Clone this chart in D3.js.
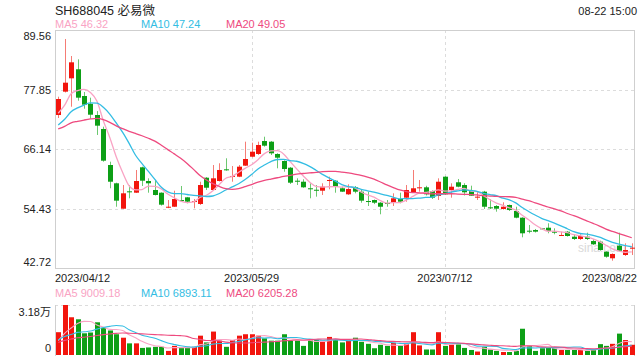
<!DOCTYPE html>
<html><head><meta charset="utf-8">
<script src="https://cdn.jsdelivr.net/npm/d3@7"></script>
<style>
html,body{margin:0;padding:0;background:#fff;}
svg{display:block;font-family:"Liberation Sans",Arial,"Noto Sans CJK SC",sans-serif;}
</style></head>
<body><svg id="c" width="640" height="360"></svg>
<script>
const dates = ["2023/04/12","2023/04/13","2023/04/14","2023/04/17","2023/04/18","2023/04/19","2023/04/20","2023/04/21","2023/04/24","2023/04/25","2023/04/26","2023/04/27","2023/04/28",
"2023/05/04","2023/05/05","2023/05/08","2023/05/09","2023/05/10","2023/05/11","2023/05/12","2023/05/15","2023/05/16","2023/05/17","2023/05/18","2023/05/19","2023/05/22","2023/05/23","2023/05/24","2023/05/25","2023/05/26","2023/05/29","2023/05/30","2023/05/31",
"2023/06/01","2023/06/02","2023/06/05","2023/06/06","2023/06/07","2023/06/08","2023/06/09","2023/06/12","2023/06/13","2023/06/14","2023/06/15","2023/06/16","2023/06/19","2023/06/20","2023/06/21","2023/06/26","2023/06/27","2023/06/28","2023/06/29","2023/06/30",
"2023/07/03","2023/07/04","2023/07/05","2023/07/06","2023/07/07","2023/07/10","2023/07/11","2023/07/12","2023/07/13","2023/07/14","2023/07/17","2023/07/18","2023/07/19","2023/07/20","2023/07/21","2023/07/24","2023/07/25","2023/07/26","2023/07/27","2023/07/28","2023/07/31",
"2023/08/01","2023/08/02","2023/08/03","2023/08/04","2023/08/07","2023/08/08","2023/08/09","2023/08/10","2023/08/11","2023/08/14","2023/08/15","2023/08/16","2023/08/17","2023/08/18","2023/08/21","2023/08/22"];
const open  = [72.83,77.42,80.05,81.83,76.57,75.05,72.83,70.08,62.99,59.39,54.39,57.81,57.54,62.54,59.84,58.07,57.54,54.59,54.78,56.10,56.63,55.71,55.32,60.49,58.07,59.84,62.14,60.69,60.69,62.86,64.62,65.16,67.71,67.58,65.16,63.78,62.46,59.90,59.70,58.41,58.12,57.93,59.98,59.90,58.41,57.22,58.60,57.74,55.90,56.10,55.57,55.51,55.57,56.30,56.56,57.62,58.52,58.60,57.87,56.89,60.69,58.07,59.59,59.05,57.87,56.69,57.74,54.66,54.92,54.33,55.12,53.94,52.62,50.06,50.20,50.53,50.65,49.87,49.16,49.86,48.88,48.43,48.88,48.03,47.90,45.93,44.63,47.11,45.28,46.60];
const high  = [76.43,87.79,84.44,83.79,77.36,76.24,73.60,70.53,63.64,59.51,59.05,59.05,62.01,62.66,60.37,60.04,57.60,56.10,57.93,58.86,56.70,56.30,59.70,60.60,62.99,63.33,64.31,62.79,62.99,67.58,67.38,67.58,68.56,67.70,65.30,63.90,62.60,60.37,60.18,59.39,59.05,59.39,60.69,60.00,58.72,59.19,58.86,58.07,57.74,56.20,55.70,56.10,57.42,57.54,59.05,62.01,60.04,58.90,58.00,60.37,60.80,59.39,60.24,59.40,58.92,57.74,57.90,56.24,55.10,55.65,55.20,54.78,52.70,51.18,50.40,50.60,51.52,50.53,49.86,50.00,49.35,49.35,49.67,48.37,48.10,46.00,45.60,49.67,47.58,47.58];
const low   = [72.24,77.26,74.46,75.65,74.07,72.10,68.90,63.64,58.41,54.78,54.39,56.44,57.48,58.86,57.54,56.99,55.00,54.50,54.72,55.90,55.45,54.47,55.12,58.07,58.07,59.74,61.87,59.70,60.60,62.80,64.51,64.96,66.60,64.96,62.34,61.67,59.25,59.05,58.50,56.44,56.76,57.09,58.21,57.54,57.70,57.10,57.42,55.57,54.92,55.30,53.29,54.78,54.92,55.45,55.77,57.50,57.74,57.00,56.30,56.10,57.09,56.56,58.60,57.00,56.90,56.10,54.33,54.33,53.80,54.20,53.94,52.50,48.76,49.55,49.70,50.20,49.55,49.35,49.02,48.90,48.23,48.23,48.23,47.25,46.12,44.75,44.16,46.00,45.08,45.28];
const close = [75.98,79.19,83.20,76.24,74.86,72.89,70.73,63.84,59.70,55.97,57.42,57.62,59.84,59.90,59.39,57.09,55.18,54.78,56.30,55.97,55.77,55.90,59.05,58.52,60.37,62.01,62.01,60.83,62.66,64.17,65.61,66.93,66.79,65.29,64.43,62.20,59.51,59.70,58.60,58.21,58.00,58.72,60.04,58.72,57.74,58.27,57.74,55.97,55.77,55.57,54.78,55.37,56.44,55.77,58.07,58.41,58.60,57.22,56.56,59.70,57.22,58.72,58.72,57.62,56.95,56.76,54.78,54.59,54.39,54.78,54.13,52.62,49.55,49.94,49.87,50.40,50.00,49.67,49.22,49.02,48.43,49.02,48.43,47.38,46.26,44.94,45.48,46.12,46.26,46.72];
const volume = [14500,31800,24000,22700,13800,14300,20800,17100,15600,13200,11000,7400,7400,4500,4800,5200,5200,2600,5800,4500,5200,5200,12300,8000,14900,9100,5200,9500,12300,13200,13200,12300,10600,9100,9100,13200,9100,9100,5800,9500,9500,9100,11500,10000,8000,9100,11000,8400,7100,4300,6500,5800,7800,5800,6900,14500,6100,3500,3500,14500,5800,6500,6700,4500,3200,2200,5200,3500,2600,1900,1900,2600,16700,5800,2600,4300,4500,4300,3200,3200,3200,3200,2600,3500,6900,5800,7100,13600,9500,6500];
// closes / volumes of the 19 sessions before 2023/04/12 (estimated from where the MA lines start)
const priorClose = [68.9,69.5,70.2,69.8,68.6,68.1,69.0,70.4,69.7,68.8,67.9,68.3,68.8,69.2,68.55,71.2,72.0,73.1,73.57];
const priorVolume = [6000,7200,5800,6900,6300,7100,6100,6600,6700,6300,9500,10800,9200,10400,9600,8200,7400,7900,7500];
const priceTicks = [89.56,77.85,66.14,54.43,42.72];
const dateTicks = ["2023/04/12","2023/05/29","2023/07/12","2023/08/22"];
const maPeriods = [5,10,20];
const maPriceLabels = ["46.32","47.24","49.05"];
const maVolLabels = ["9009.18","6893.11","6205.28"];
const volTop = 31800;
const title = "SH688045 必易微";
const stamp = "08-22 15:00";

const W=640, L=55, R=635, T=30, B=268, VT=305, VB=355;
const UP="#f2150d", DOWN="#0d9f16", UPW="#f57c75", DOWNW="#6cc870";
const maColors=["#f9a3c4","#33bde3","#ee4a7f"];
const svg=d3.select("#c");

const x=d3.scaleBand().domain(dates).range([L,R]).paddingInner(0.22).paddingOuter(0.11);
const xc=d=>x(d)+x.bandwidth()/2;
const y=d3.scaleLinear().domain([priceTicks[4],priceTicks[0]]).range([B,T]);
const yv=d3.scaleLinear().domain([0,volTop]).range([VB,VT]);

// header
svg.append("text").attr("x",L).attr("y",15).attr("font-size",12.5).attr("fill","#222").text(title);
svg.append("text").attr("x",637).attr("y",15).attr("text-anchor","end").attr("font-size",11).attr("fill","#222").text(stamp);
const legX=[55,141,226];
maPeriods.forEach((p,k)=>{
  svg.append("text").attr("x",legX[k]).attr("y",28).attr("font-size",11).attr("fill",maColors[k]).text("MA"+p+" "+maPriceLabels[k]);
  svg.append("text").attr("x",legX[k]).attr("y",297).attr("font-size",11).attr("fill",maColors[k]).text("MA"+p+" "+maVolLabels[k]);
});

// grid main
const grid=svg.append("g").attr("stroke","#dcdcdc").attr("stroke-dasharray","3,3");
priceTicks.slice(1,4).forEach(v=>grid.append("line").attr("x1",L).attr("x2",R).attr("y1",Math.round(y(v))+0.5).attr("y2",Math.round(y(v))+0.5));
[dateTicks[1],dateTicks[2]].forEach(d=>{
  const xx=Math.round(xc(d))+0.5;
  grid.append("line").attr("x1",xx).attr("x2",xx).attr("y1",T).attr("y2",B);
  grid.append("line").attr("x1",xx).attr("x2",xx).attr("y1",VT).attr("y2",VB);
});
grid.append("line").attr("x1",L).attr("x2",R).attr("y1",VT+0.5).attr("y2",VT+0.5);
// borders
const bd=svg.append("g").attr("stroke","#cfcfcf").attr("fill","none");
bd.append("rect").attr("x",L+0.5).attr("y",T+0.5).attr("width",R-L-1).attr("height",B-T);
bd.append("line").attr("x1",L+0.5).attr("x2",L+0.5).attr("y1",VT).attr("y2",VB+1);
bd.append("line").attr("x1",R-0.5).attr("x2",R-0.5).attr("y1",VT).attr("y2",VB+1);

// y axis labels
const ya=svg.append("g").attr("font-size",11).attr("fill","#222").attr("text-anchor","end");
priceTicks.forEach((v,i)=>{
  let yy=y(v)+4; if(i===0) yy=y(v)+10; if(i===4) yy=y(v)-2;
  ya.append("text").attr("x",51).attr("y",yy).text(v.toFixed(2));
});
ya.append("text").attr("x",51).attr("y",VT+11).text((volTop/10000).toFixed(2)+"万");
ya.append("text").attr("x",51).attr("y",VB-3).text("0");

// date axis
const xa=svg.append("g").attr("font-size",11).attr("fill","#222");
dateTicks.forEach((d,i)=>{
  const anchor=i===0?"start":(i===dateTicks.length-1?"end":"middle");
  const xx=i===0?L:(i===dateTicks.length-1?637:xc(d));
  xa.append("text").attr("x",xx).attr("y",282).attr("text-anchor",anchor).text(d);
});

// watermark
svg.append("text").attr("x",626).attr("y",252).attr("text-anchor","end").attr("font-size",12).attr("fill","#d0d0d0").attr("opacity",0.8).text("sina.com");

const data=dates.map((d,i)=>({d,o:open[i],h:high[i],l:low[i],c:close[i],v:volume[i],up:close[i]>=open[i]}));

// candles
const cg=svg.append("g");
cg.selectAll("line.w").data(data).join("line")
  .attr("x1",d=>Math.round(xc(d.d))+0.5).attr("x2",d=>Math.round(xc(d.d))+0.5)
  .attr("y1",d=>y(d.h)).attr("y2",d=>y(d.l))
  .attr("stroke",d=>d.up?UPW:DOWNW).attr("stroke-width",1);
cg.selectAll("rect").data(data).join("rect")
  .attr("x",d=>Math.round(xc(d.d))-2).attr("width",5)
  .attr("y",d=>y(Math.max(d.o,d.c)))
  .attr("height",d=>Math.max(1,Math.abs(y(d.o)-y(d.c))))
  .attr("fill",d=>d.up?UP:DOWN);

// volume bars
svg.append("g").selectAll("rect").data(data).join("rect")
  .attr("x",d=>Math.round(xc(d.d))-2).attr("width",5)
  .attr("y",d=>yv(d.v)).attr("height",d=>VB-yv(d.v))
  .attr("fill",d=>d.up?UP:DOWN);

// moving averages
function ma(series,prior,p){
  const all=prior.concat(series), off=prior.length;
  return series.map((_,i)=>d3.mean(all.slice(off+i-p+1,off+i+1)));
}
const lineP=d3.line().x((v,i)=>xc(dates[i])).y(v=>y(v)).curve(d3.curveMonotoneX);
const lineV=d3.line().x((v,i)=>xc(dates[i])).y(v=>yv(v)).curve(d3.curveMonotoneX);
maPeriods.forEach((p,k)=>{
  svg.append("path").attr("d",lineP(ma(close,priorClose,p))).attr("fill","none").attr("stroke",maColors[k]).attr("stroke-width",1.3);
  svg.append("path").attr("d",lineV(ma(volume,priorVolume,p))).attr("fill","none").attr("stroke",maColors[k]).attr("stroke-width",1.1);
});
</script></body></html>
